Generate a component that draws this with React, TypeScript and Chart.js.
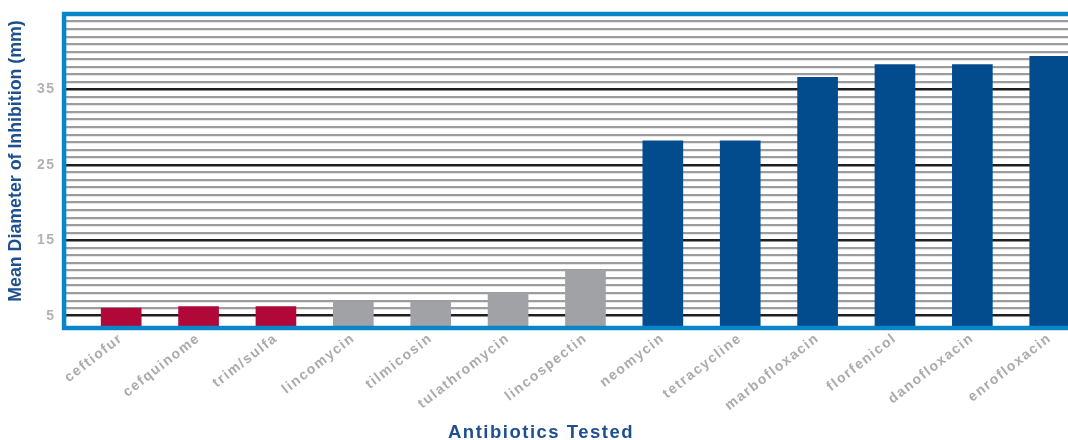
import React, { useEffect, useRef } from "react";
import { Chart, registerables } from "chart.js";

Chart.register(...registerables);

// ---- data ----
const categories = [
  "ceftiofur",
  "cefquinome",
  "trim/sulfa",
  "lincomycin",
  "tilmicosin",
  "tulathromycin",
  "lincospectin",
  "neomycin",
  "tetracycline",
  "marbofloxacin",
  "florfenicol",
  "danofloxacin",
  "enrofloxacin",
];
const diameters = [6.0, 6.2, 6.2, 6.85, 6.85, 8.0, 11.0, 28.2, 28.2, 36.6, 38.3, 38.3, 39.4];
const groups = ["low", "low", "low", "mid", "mid", "mid", "mid", "high", "high", "high", "high", "high", "high"];
const yTickLabels = [5, 15, 25, 35];
const yMinorStart = 5;
const yMinorEnd = 45;
const yTitle = "Mean Diameter of Inhibition (mm)";
const xTitle = "Antibiotics Tested";

const groupColors: Record<string, string> = {
  low: "#b00839",
  mid: "#a1a2a5",
  high: "#024c8e",
};

const W = 1082;
const H = 444;

export default function App() {
  const ref = useRef<HTMLCanvasElement>(null);

  useEffect(() => {
    document.body.style.margin = "0";
    const canvas = ref.current!;

    const spacing = {
      id: "spacing",
      beforeUpdate(chart: any) {
        chart.ctx.letterSpacing = "1.5px";
      },
      beforeLayout(chart: any) {
        chart.ctx.letterSpacing = "1.5px";
      },
      beforeDraw(chart: any) {
        chart.ctx.letterSpacing = "1.5px";
      },
    };

    const frame = {
      id: "frame",
      afterDatasetsDraw(chart: any) {
        const { ctx, chartArea: a } = chart;
        ctx.save();
        ctx.strokeStyle = "#0a86c8";
        ctx.lineWidth = 4.5;
        ctx.strokeRect(a.left, a.top, a.right - a.left, a.bottom - a.top);
        ctx.restore();
      },
      afterDraw(chart: any) {
        const { ctx, chartArea: a } = chart;
        // y-axis title
        ctx.save();
        ctx.letterSpacing = "0px";
        ctx.translate(a.left - 47.5, 161);
        ctx.rotate(-Math.PI / 2);
        ctx.fillStyle = "#1d4f91";
        ctx.font = "bold 17.8px 'Liberation Sans', Arial, sans-serif";
        ctx.textAlign = "center";
        ctx.textBaseline = "middle";
        ctx.fillText(yTitle, 0, 0);
        ctx.restore();
        // x-axis title
        ctx.save();
        ctx.letterSpacing = "1.5px";
        ctx.fillStyle = "#1d4f91";
        ctx.font = "bold 18.5px 'Liberation Sans', Arial, sans-serif";
        ctx.textAlign = "center";
        ctx.textBaseline = "middle";
        ctx.fillText(xTitle, 541, a.bottom + 105);
        ctx.restore();
      },
    };

    const chart = new Chart(canvas, {
      type: "bar",
      data: {
        datasets: [
          {
            data: diameters.map((v, i) => ({ x: i, y: v })),
            backgroundColor: groups.map((g) => groupColors[g]),
            barThickness: 40,
            borderWidth: 0,
          },
        ],
      },
      options: {
        responsive: false,
        animation: false,
        devicePixelRatio: 1,
        layout: { padding: { left: 28.5, top: 14, right: 0, bottom: 22.2 } },
        plugins: {
          legend: { display: false },
          tooltip: { enabled: false },
          title: { display: false },
        },
        scales: {
          x: {
            type: "linear",
            offset: false,
            min: -0.738,
            max: 12.417,
            afterBuildTicks: (s: any) => {
              s.ticks = categories.map((_, i) => ({ value: i }));
            },
            afterFit: (s: any) => {
              s.height = 93.8;
              s.paddingLeft = 0;
              s.paddingRight = 0;
            },
            grid: { display: false, drawTicks: false, offset: false },
            border: { display: false },
            ticks: {
              autoSkip: false,
              minRotation: 38,
              maxRotation: 38,
              padding: 2,
              color: "#ababab",
              font: { family: "'Liberation Sans', Arial, sans-serif", size: 14, weight: "bold" },
              callback: (v: any) => categories[v] ?? "",
            },
          },
          y: {
            min: 3.37,
            max: 45,
            afterBuildTicks: (s: any) => {
              const t: any[] = [];
              for (let v = yMinorStart; v <= yMinorEnd; v++) t.push({ value: v });
              s.ticks = t;
            },
            afterFit: (s: any) => {
              s.paddingTop = 0;
              s.paddingBottom = 0;
            },
            grid: {
              drawTicks: false,
              color: (c: any) => (yTickLabels.includes(c.tick?.value) ? "#1f1f1f" : "#9c9c9c"),
              lineWidth: (c: any) => (yTickLabels.includes(c.tick?.value) ? 2.5 : 2.2),
            },
            border: { display: false },
            ticks: {
              autoSkip: false,
              padding: 8.5,
              color: "#b2b2b2",
              font: { family: "'Liberation Sans', Arial, sans-serif", size: 14, weight: "bold" },
              callback: (v: any) => (yTickLabels.includes(v) ? String(v) : ""),
            },
          },
        },
      },
      plugins: [spacing, frame],
    } as any);

    return () => chart.destroy();
  }, []);

  return (
    <div style={{ width: 1068, height: 440, overflow: "hidden" }}>
      <canvas ref={ref} width={W} height={H} style={{ display: "block" }} />
    </div>
  );
}
